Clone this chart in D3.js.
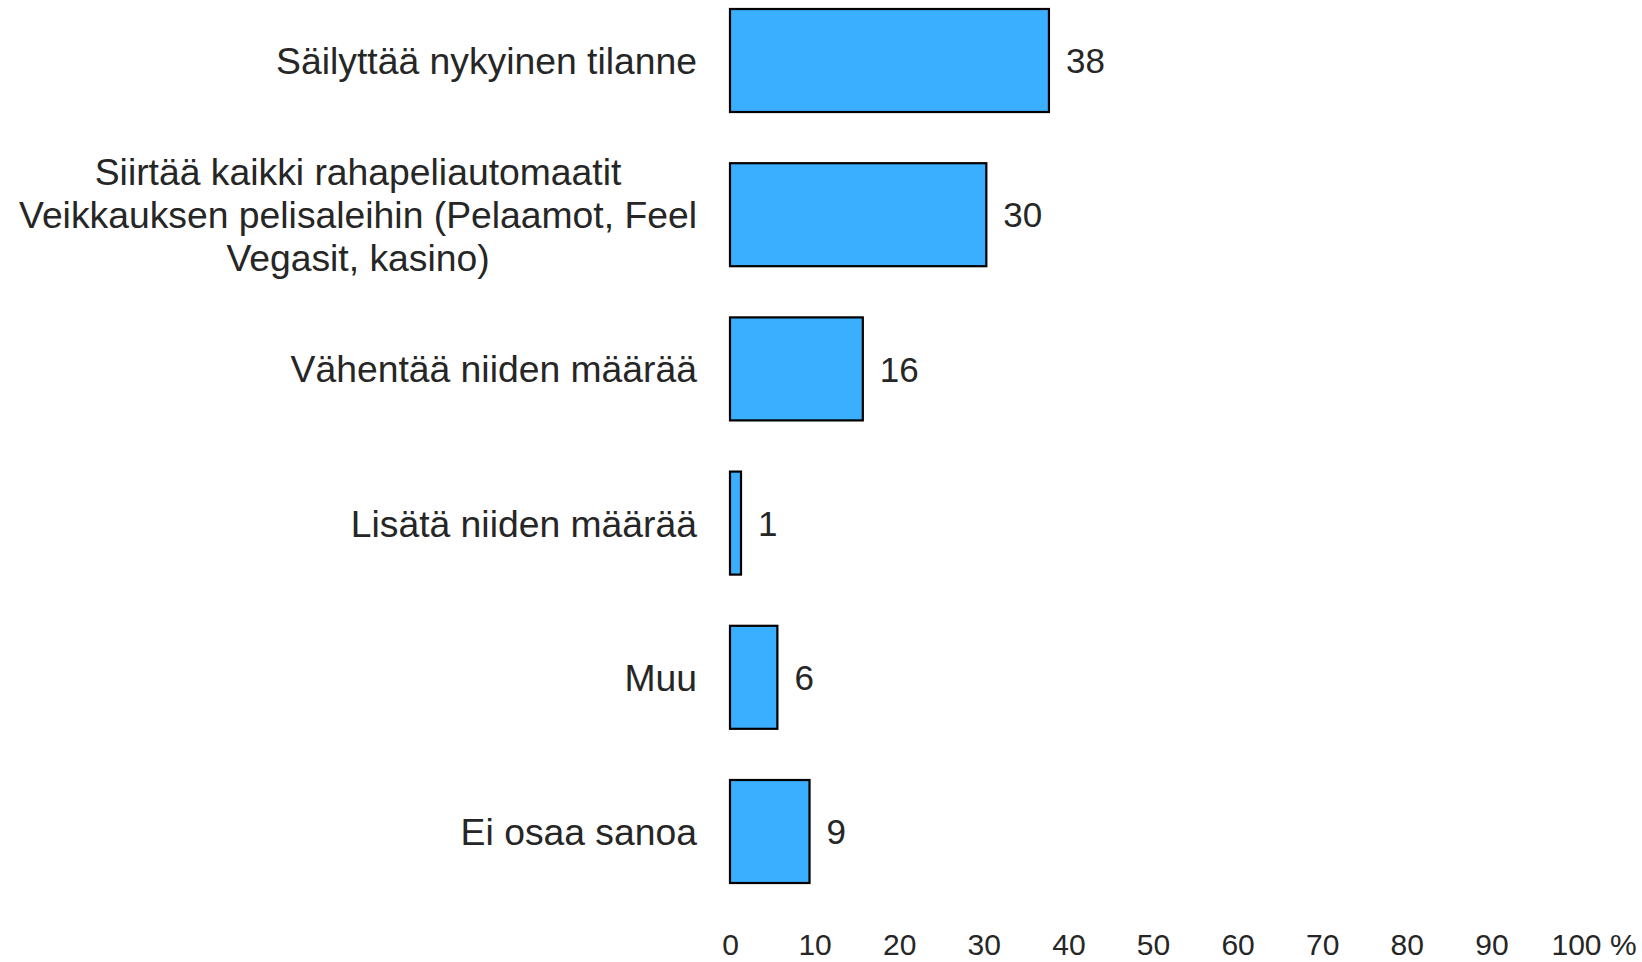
<!DOCTYPE html>
<html>
<head>
<meta charset="utf-8">
<script src="https://cdn.jsdelivr.net/npm/d3@7"></script>
<style>
  html, body { margin: 0; padding: 0; background: #fff; }
  svg { display: block; }
  text { font-family: "Liberation Sans", Arial, sans-serif; fill: #262626; }
</style>
</head>
<body>
<svg id="chart" width="1642" height="962"></svg>
<script>
const categories = [
  "Säilyttää nykyinen tilanne",
  "Siirtää kaikki rahapeliautomaatit Veikkauksen pelisaleihin (Pelaamot, Feel Vegasit, kasino)",
  "Vähentää niiden määrää",
  "Lisätä niiden määrää",
  "Muu",
  "Ei osaa sanoa"
];
const values = [37.7, 30.3, 15.7, 1.3, 5.6, 9.4];
const valueLabels = ["38", "30", "16", "1", "6", "9"];
const tickValues = [0, 10, 20, 30, 40, 50, 60, 70, 80, 90, 100];
const unitLabel = "%";

const svg = d3.select("#chart");

const x = d3.scaleLinear().domain([0, 100]).range([730, 1576]);
const y = d3.scaleBand().domain(categories).range([9, 883]).paddingInner(0.332).paddingOuter(0);

// bars
svg.append("g").selectAll("rect")
  .data(categories)
  .join("rect")
  .attr("x", x(0))
  .attr("y", d => y(d))
  .attr("width", (d, i) => x(values[i]) - x(0))
  .attr("height", y.bandwidth())
  .attr("fill", "#3BAFFF")
  .attr("stroke", "#000")
  .attr("stroke-width", 2.2);

// value labels
svg.append("g").selectAll("text")
  .data(categories)
  .join("text")
  .attr("x", (d, i) => x(values[i]) + 17)
  .attr("y", d => y(d) + y.bandwidth() / 2)
  .attr("dy", "0.36em")
  .attr("font-size", 35)
  .text((d, i) => valueLabels[i]);

// category labels with wrapping; block right-aligned, lines centered within block
const catG = svg.append("g");
const fs = 37.3;
const maxW = 720;
const rightX = 697;
categories.forEach(cat => {
  const probe = svg.append("text").attr("font-size", fs);
  const measure = s => { probe.text(s); return probe.node().getComputedTextLength(); };
  const words = cat.split(" ");
  const lines = [];
  let line = [];
  words.forEach(w => {
    const test = line.concat([w]).join(" ");
    if (measure(test) > maxW && line.length) {
      lines.push(line.join(" "));
      line = [w];
    } else {
      line.push(w);
    }
  });
  lines.push(line.join(" "));
  const blockW = d3.max(lines, l => measure(l));
  probe.remove();
  const cx = rightX - blockW / 2;
  const t = catG.append("text")
    .attr("text-anchor", "middle")
    .attr("font-size", fs);
  const cy = y(cat) + y.bandwidth() / 2;
  const lh = 43;
  lines.forEach((l, k) => {
    t.append("tspan")
      .attr("x", cx)
      .attr("y", cy + (k - (lines.length - 1) / 2) * lh)
      .attr("dy", "0.36em")
      .text(l);
  });
});

// x axis (labels only)
const axis = d3.axisBottom(x).tickValues(tickValues).tickSize(0).tickPadding(0)
  .tickFormat(d => d);
const ag = svg.append("g").attr("transform", "translate(0,944)").call(axis);
ag.select(".domain").remove();
ag.selectAll("text")
  .attr("font-family", "Liberation Sans, Arial, sans-serif")
  .attr("font-size", 30)
  .attr("fill", "#262626")
  .attr("y", 0)
  .attr("dy", "0.36em");
// append unit to last tick
ag.selectAll(".tick").filter(d => d === 100).select("text")
  .attr("text-anchor", "start")
  .attr("x", -25)
  .text("100 " + unitLabel);
</script>
</body>
</html>
